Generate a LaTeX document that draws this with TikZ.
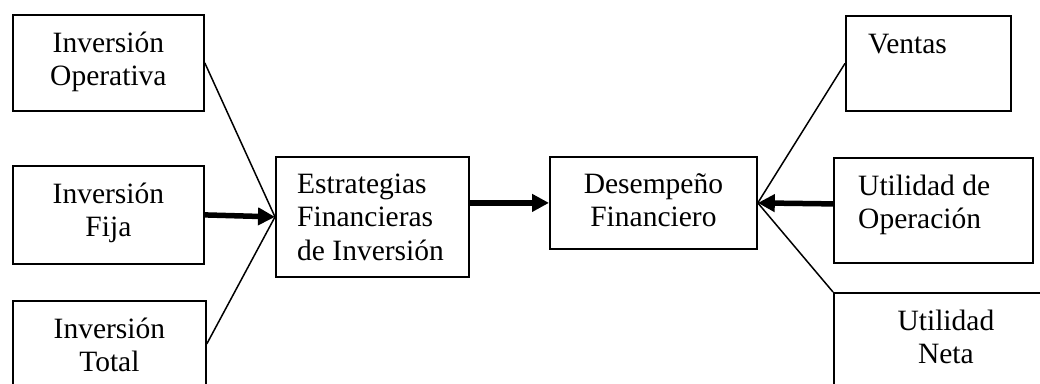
\documentclass[tikz,border=0pt]{standalone}
\usepackage{fontspec}
\setmainfont{Liberation Serif}
\usetikzlibrary{arrows.meta}
\tikzset{
  box/.style={draw, line width=1.8pt, rectangle, inner sep=0pt, anchor=north west},
  ctext/.style={inner sep=0pt, anchor=base, font=\fontsize{29.5}{33.5}\selectfont},
  ltext/.style={inner sep=0pt, anchor=base west, font=\fontsize{29.5}{33.5}\selectfont},
  thin/.style={line width=1.5pt},
  thick/.style={line width=5.5pt, -{Triangle[length=17pt,width=17pt]}}
}
\begin{document}
\begin{tikzpicture}[x=1pt,y=-1pt]
\useasboundingbox (0,0) rectangle (1040,383);
\clip (0,0) rectangle (1040,383);
% boxes
\node[box, minimum width=191pt, minimum height=96pt] (b1) at (12,14) {};
\node[box, minimum width=191pt, minimum height=98pt] (b2) at (12,165) {};
\node[box, minimum width=193pt, minimum height=86pt] (b3) at (12,300) {};
\node[box, minimum width=193pt, minimum height=120pt] (est) at (275,156) {};
\node[box, minimum width=207pt, minimum height=92pt] (des) at (549,156) {};
\node[box, minimum width=165pt, minimum height=95pt] (ven) at (845,15) {};
\node[box, minimum width=199pt, minimum height=105pt] (uop) at (833,157) {};
\node[box, minimum width=224pt, minimum height=128pt] (neta) at (833,292) {};
% texts
\node[ctext] (t1) at ([yshift=-38pt]b1.north) {\parbox[t]{180pt}{\centering Inversión\\Operativa}};
\node[ctext] (t2) at ([yshift=-38pt]b2.north) {\parbox[t]{180pt}{\centering Inversión\\Fija}};
\node[ctext] (t3) at ([yshift=-38pt]b3.north) {\parbox[t]{180pt}{\centering Inversión\\Total}};
\node[ltext] (t4) at ([xshift=22pt,yshift=-37pt]est.north west) {\parbox[t]{170pt}{\raggedright Estrategias\\Financieras\\de Inversión}};
\node[ctext] (t5) at ([yshift=-37pt]des.north) {\parbox[t]{195pt}{\centering Desempeño\\Financiero}};
\node[ltext] (t6) at ([xshift=23pt,yshift=-38pt]ven.north west) {Ventas};
\node[ltext] (t7) at ([xshift=25pt,yshift=-38pt]uop.north west) {\parbox[t]{170pt}{\raggedright Utilidad de\\Operación}};
\node[ctext] (t8) at ([yshift=-38pt]neta.north) {\parbox[t]{200pt}{\centering Utilidad\\Neta}};
% connectors
\draw[thin] (b1.east) -- (est.west);
\draw[thin] (b3.east) -- (est.west);
\draw[thick] (b2.east) -- (est.west);
\draw[thick] (est.east |- des.west) -- (des.west);
\draw[thin] (ven.west) -- (des.east);
\draw[thin] (neta.north west) -- (des.east);
\draw[thick] ([yshift=6.5pt]uop.west) -- (des.east);
\end{tikzpicture}
\end{document}
